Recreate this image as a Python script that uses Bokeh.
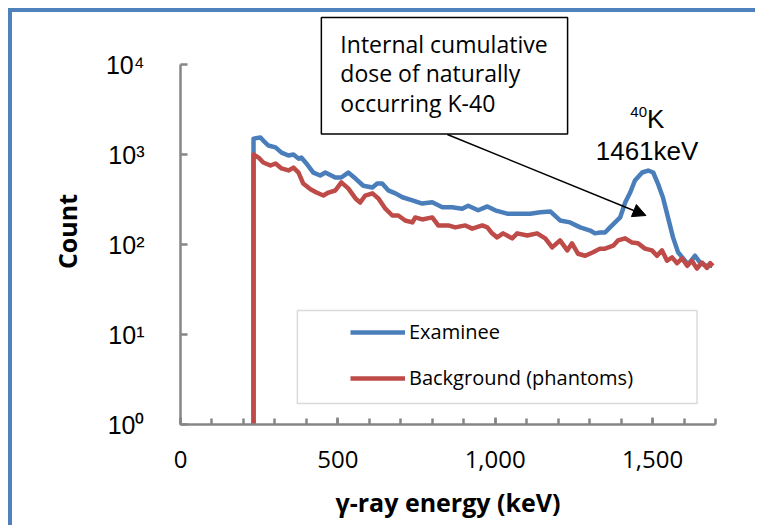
from bokeh.plotting import figure
from bokeh.models import (FixedTicker, NumeralTickFormatter, Legend, LegendItem,
                          Label, Arrow, NormalHead, BoxAnnotation, Range1d)
from bokeh.embed import file_html
from bokeh.resources import INLINE

# ---- data ----
energy_examinee = [232, 232, 254, 263, 279, 302, 321, 343, 359, 375, 384, 400, 422, 444, 460, 492, 511, 533, 556, 581,
                   610, 625, 641, 660, 683, 705, 737, 768, 800, 832, 863, 895, 914, 946, 975, 1000, 1038, 1070, 1111, 1143,
                   1175, 1206, 1238, 1270, 1302, 1317, 1333, 1349, 1365, 1381, 1397, 1413, 1429, 1444, 1467, 1486, 1502,
                   1517, 1533, 1549, 1565, 1581, 1597, 1613, 1635, 1651, 1670, 1689]
count_examinee = [1, 1500, 1550, 1430, 1260, 1200, 1050, 975, 1000, 900, 925, 795, 630, 585, 630, 555, 555, 630, 540, 450,
                  430, 475, 475, 400, 370, 335, 310, 285, 295, 260, 260, 250, 270, 240, 265, 240, 220, 220, 220, 228,
                  233, 185, 176, 155, 143, 133, 136, 136, 155, 176, 200, 293, 378, 514, 631, 664, 631,
                  476, 333, 200, 120, 82, 70, 60, 75, 63, 58, 58]

energy_background = [232, 232, 248, 263, 286, 302, 321, 343, 359, 375, 390, 413, 432, 454, 470, 492, 511, 533, 556, 571,
                     587, 610, 629, 651, 673, 692, 714, 737, 746, 768, 800, 819, 851, 873, 905, 927, 959, 975, 990, 1006,
                     1025, 1054, 1070, 1102, 1133, 1159, 1181, 1206, 1229, 1244, 1263, 1286, 1311, 1333, 1349, 1375, 1390,
                     1413, 1435, 1454, 1476, 1498, 1514, 1530, 1546, 1562, 1578, 1594, 1610, 1625, 1641, 1657, 1673, 1683, 1692]
count_background = [1, 1000, 925, 815, 755, 795, 700, 665, 715, 630, 475, 410, 378, 350, 378, 398, 490, 420, 325, 293,
                    350, 370, 325, 250, 210, 210, 185, 176, 200, 190, 200, 163, 163, 155, 163, 150, 163, 155, 133, 120,
                    133, 117, 133, 126, 133, 117, 93, 111, 86, 103, 79, 75, 82, 90, 90, 97, 111,
                    117, 105, 103, 90, 86, 75, 86, 66, 72, 62, 70, 58, 66, 54, 63, 55, 62, 58]

series_names = ["Examinee", "Background (phantoms)"]
x_major_ticks = [0, 500, 1000, 1500]
x_minor_ticks = list(range(0, 1800, 100))
y_major_ticks = [1, 10, 100, 1000, 10000]
y_tick_labels = ["10⁰", "10¹", "10²", "10³", "10⁴"]

BLUE = "#4A7EBB"
RED = "#BE4B48"
GRAY = "#868686"
CAL = "Open Sans"
ARIAL = "Liberation Sans"

# the frame reaches the top of the canvas so the call-out box is not clipped;
# the y axis itself is bounded to 1..10^4
y_end = 10 ** 4.578

p = figure(width=747, height=517, x_range=Range1d(0, 1700), y_range=Range1d(1, y_end), y_axis_type="log",
           output_backend="svg", toolbar_location=None,
           min_border_left=168, min_border_right=44, min_border_top=0, min_border_bottom=105)
p.styles = {"margin-left": "8px", "margin-top": "8px",
            "border-left": "4px solid #4F81BD", "border-top": "4px solid #4F81BD"}
p.xgrid.visible = False
p.ygrid.visible = False
p.outline_line_color = None
p.background_fill_color = "white"
p.border_fill_color = "white"

for ax in (p.xaxis[0], p.yaxis[0]):
    ax.axis_line_color = GRAY
    ax.axis_line_width = 2.5
    ax.major_tick_line_color = GRAY
    ax.major_tick_line_width = 2.5
    ax.minor_tick_line_color = GRAY
    ax.minor_tick_line_width = 2.5
    ax.major_tick_in = 7
    ax.major_tick_out = 0
    ax.minor_tick_in = 6
    ax.minor_tick_out = 0
    ax.major_label_text_color = "black"
    ax.axis_label_text_color = "black"
    ax.axis_label_text_font = CAL
    ax.axis_label_text_font_style = "bold"
    ax.axis_label_text_font_size = "25px"

xa = p.xaxis[0]
xa.ticker = FixedTicker(ticks=x_major_ticks, minor_ticks=x_minor_ticks)
xa.formatter = NumeralTickFormatter(format="0,0")
xa.major_label_text_font = CAL
xa.major_label_text_font_size = "24px"
xa.major_label_standoff = 26
xa.axis_label = "γ-ray energy (keV)"
xa.axis_label_standoff = 14

ya = p.yaxis[0]
ya.ticker = FixedTicker(ticks=y_major_ticks, minor_ticks=[])
ya.major_label_overrides = {t: s for t, s in zip(y_major_ticks, y_tick_labels)}
ya.bounds = (1, 10000)
ya.major_label_text_font = ARIAL
ya.major_label_text_font_size = "25px"
ya.major_label_standoff = 36
# trailing no-break spaces move the title's centre down to where the reference has it
ya.axis_label = "Count\u00a0\u00a0\u00a0\u00a0"
ya.axis_label_standoff = 19

r_exam = p.line(energy_examinee, count_examinee, line_color=BLUE, line_width=4.5, line_join="round")
r_bg = p.line(energy_background, count_background, line_color=RED, line_width=4.5, line_join="round")

# legend frame
p.add_layout(BoxAnnotation(left=371.4, right=1641.3, top=18.48, bottom=1.711,
                           fill_alpha=0, line_color=GRAY, line_width=1.5))
legend = Legend(items=[LegendItem(label=series_names[0], renderers=[r_exam]),
                       LegendItem(label=series_names[1], renderers=[r_bg])],
                location=(170, 33), padding=0, margin=0, spacing=19,
                glyph_width=55, glyph_height=24, label_height=24, label_standoff=4,
                border_line_color=None, background_fill_alpha=0,
                label_text_font=CAL, label_text_font_size="20px", label_text_color="black")
p.add_layout(legend)

# call-out box
p.add_layout(Label(x=447.6, y=33270, anchor="top_left",
                   text="Internal cumulative\ndose of naturally\noccurring K-40",
                   text_font=CAL, text_font_size="23px", text_line_height=0.93, text_color="black",
                   border_line_color="black", border_line_width=1.5, background_fill_color="white",
                   padding=dict(left=19, right=20, top=10, bottom=15)))
p.add_layout(Arrow(x_start=848, y_start=1668, x_end=1479, y_end=210, line_width=1.5, line_color="black",
                   end=NormalHead(size=13, fill_color="black", line_color="black")))

p.add_layout(Label(x=1482.5, y=3000, text="40", text_align="right", text_baseline="alphabetic",
                   text_font=ARIAL, text_font_size="15px", text_color="black"))
p.add_layout(Label(x=1482.5, y=2450, text="K", text_align="left", text_baseline="alphabetic",
                   text_font=ARIAL, text_font_size="26px", text_color="black"))
p.add_layout(Label(x=1482.5, y=1108, text="1461keV", text_align="center", text_baseline="alphabetic",
                   text_font=ARIAL, text_font_size="26px", text_color="black"))

open("out.html", "w").write(file_html(p, INLINE))
